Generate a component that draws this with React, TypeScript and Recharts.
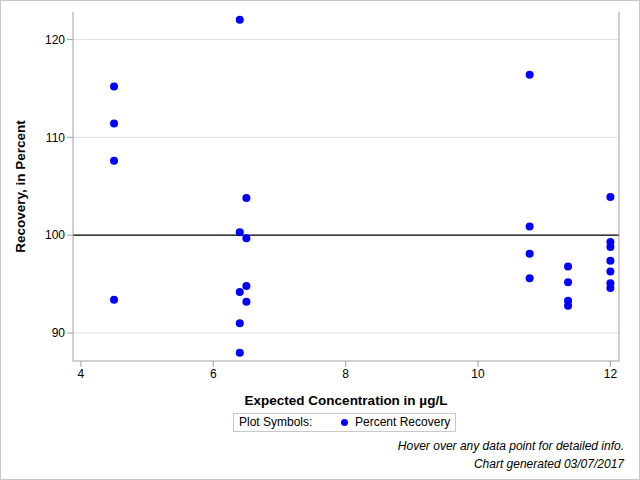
import React from "react";
import {
  ScatterChart,
  Scatter,
  XAxis,
  YAxis,
  CartesianGrid,
  ReferenceLine,
  ZAxis,
} from "recharts";

// Expected concentration (µg/L) for each measurement
const concentrations = [
  4.5, 4.5, 4.5, 4.5,
  6.4, 6.4, 6.4, 6.4, 6.4,
  6.5, 6.5, 6.5, 6.5,
  10.78, 10.78, 10.78, 10.78,
  11.36, 11.36, 11.36, 11.36,
  12, 12, 12, 12, 12, 12, 12,
];
// Percent recovery for each measurement
const recoveries = [
  115.2, 111.4, 107.6, 93.4,
  122.0, 100.3, 94.2, 91.0, 88.0,
  103.8, 99.7, 94.8, 93.2,
  116.4, 100.9, 98.1, 95.6,
  96.8, 95.2, 93.3, 92.8,
  103.9, 99.3, 98.8, 97.4, 96.3, 95.1, 94.6,
];
const xTicks = [4, 6, 8, 10, 12];
const yTicks = [90, 100, 110, 120];
const xDomain = [3.88, 12.13];
const yDomain = [87.15, 122.8];
const targetRecovery = 100;
const seriesName = "Percent Recovery";
const xTitle = "Expected Concentration in µg/L";
const yTitle = "Recovery, in Percent";
const footnotes = [
  "Hover over any data point for detailed info.",
  "Chart generated 03/07/2017",
];

const data = concentrations.map((c, i) => ({ x: c, y: recoveries[i] }));

const FONT = "'Liberation Sans', Arial, sans-serif";
const AXIS_GRAY = "#a0a0a0";

const Dot = (props: any) => {
  const { cx, cy } = props;
  if (cx == null || cy == null) return null;
  return <circle cx={cx} cy={cy} r={4} fill="#0000ff" stroke="none" />;
};

export default function App() {
  return (
    <div
      style={{
        position: "absolute",
        left: 0,
        top: 0,
        width: 640,
        height: 480,
        boxSizing: "border-box",
        border: "1px solid #c8c8c8",
        background: "#fff",
        fontFamily: FONT,
      }}
    >
      <div style={{ position: "absolute", left: 0, top: 0 }}>
        <ScatterChart
          width={640}
          height={480}
          margin={{ top: 11, right: 12, bottom: 90, left: 0 }}
        >
          <CartesianGrid
            vertical={false}
            stroke="#e0e0e0"
            horizontalValues={yTicks}
          />
          <XAxis
            type="number"
            dataKey="x"
            domain={xDomain}
            ticks={xTicks}
            allowDataOverflow
            height={30}
            stroke={AXIS_GRAY}
            tickSize={6}
            tick={{ fill: "#000", fontSize: 12, fontFamily: FONT }}
            tickLine={{ stroke: AXIS_GRAY }}
            label={{
              value: xTitle,
              position: "insideBottom",
              offset: -14,
              style: { fill: "#000", fontSize: 13.5, fontWeight: "bold", fontFamily: FONT },
            }}
          />
          <XAxis
            xAxisId="top"
            orientation="top"
            type="number"
            dataKey="x"
            domain={xDomain}
            allowDataOverflow
            height={0}
            tick={false}
            tickLine={false}
            stroke={AXIS_GRAY}
          />
          <YAxis
            type="number"
            dataKey="y"
            domain={yDomain}
            ticks={yTicks}
            allowDataOverflow
            width={72}
            stroke={AXIS_GRAY}
            tickSize={6}
            tick={{ fill: "#000", fontSize: 12, fontFamily: FONT }}
            tickLine={{ stroke: AXIS_GRAY }}
            label={{
              value: yTitle,
              angle: -90,
              position: "insideLeft",
              offset: 19,
              style: {
                textAnchor: "middle",
                fill: "#000",
                fontSize: 13.5,
                fontWeight: "bold",
                fontFamily: FONT,
              },
            }}
          />
          <YAxis
            yAxisId="right"
            orientation="right"
            type="number"
            dataKey="y"
            domain={yDomain}
            ticks={yTicks}
            allowDataOverflow
            width={10}
            stroke={AXIS_GRAY}
            tickSize={6}
            tick={false}
            tickLine={{ stroke: AXIS_GRAY }}
          />
          <ZAxis range={[50, 50]} />
          <ReferenceLine y={targetRecovery} stroke="#000" strokeWidth={1.3} />
          <Scatter
            name={seriesName}
            data={data}
            fill="#0000ff"
            shape={<Dot />}
            isAnimationActive={false}
          />
        </ScatterChart>
      </div>
      <div
        style={{
          position: "absolute",
          left: 232,
          top: 412,
          width: 223,
          height: 19,
          boxSizing: "border-box",
          border: "1px solid #c8c8c8",
          fontSize: 12,
          lineHeight: "17px",
          color: "#000",
          whiteSpace: "nowrap",
        }}
      >
        <span style={{ position: "absolute", left: 5 }}>Plot Symbols:</span>
        <span
          style={{
            position: "absolute",
            left: 107,
            top: 5,
            width: 7,
            height: 7,
            borderRadius: "50%",
            background: "#0000ff",
          }}
        />
        <span style={{ position: "absolute", left: 121 }}>{seriesName}</span>
      </div>
      {footnotes.map((t, i) => (
        <div
          key={i}
          style={{
            position: "absolute",
            right: 15,
            top: 438 + i * 18,
            fontSize: 12,
            fontStyle: "italic",
            color: "#000",
            whiteSpace: "nowrap",
          }}
        >
          {t}
        </div>
      ))}
    </div>
  );
}
